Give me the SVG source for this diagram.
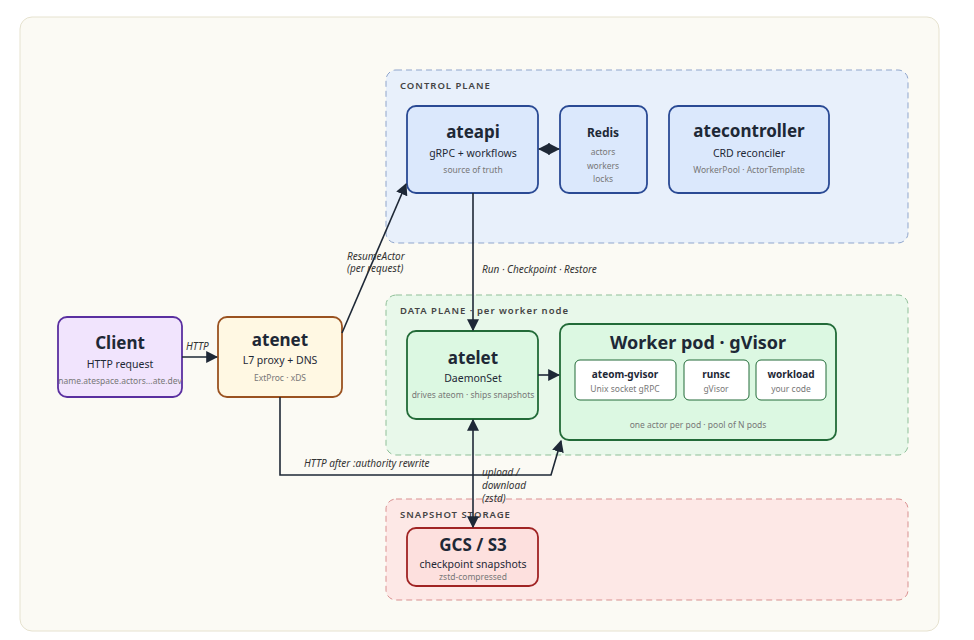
<svg xmlns="http://www.w3.org/2000/svg" width="974" height="640" viewBox="0 0 974 640">
<defs>
<marker id="ah" viewBox="0 0 10 10" refX="9" refY="5" markerWidth="12" markerHeight="12" markerUnits="userSpaceOnUse" orient="auto-start-reverse"><path d="M0,0 L10,5 L0,10 z" fill="#1e2836"/></marker>
<style>
text{font-family:"Noto Sans","Liberation Sans",sans-serif;text-anchor:middle;fill:#1e2836}
.t{font-weight:bold;font-size:17px}
.s{font-size:10.5px}
.m{font-size:8.5px;fill:#777}
.g{font-size:9.5px;font-weight:600;letter-spacing:1px;text-anchor:start;fill:#444}
.l{font-size:10px;font-style:italic;text-anchor:start;fill:#333}
.c{fill:none;stroke:#1e2836;stroke-width:1.6}
.n{stroke-width:1.8}
</style>
</defs>
<rect x="20" y="17" width="919" height="614" rx="12" fill="#fbfaf4" stroke="#e6e2cf"/>
<g id="groups">
<rect x="386" y="70" width="522" height="173" rx="10" fill="#e8f0fb" stroke="#8fa5cc" stroke-dasharray="6 4"/>
<text class="g" x="400" y="89">CONTROL PLANE</text>
<rect x="386" y="295" width="522" height="160" rx="10" fill="#e8f8ea" stroke="#8fbf98" stroke-dasharray="6 4"/>
<text class="g" x="400" y="314">DATA PLANE · per worker node</text>
<rect x="386" y="499" width="522" height="101" rx="10" fill="#fde8e6" stroke="#d99090" stroke-dasharray="6 4"/>
<text class="g" x="400" y="518">SNAPSHOT STORAGE</text>
</g>
<g id="ateapi"><rect class="n" x="407" y="106" width="131" height="87" rx="9" fill="#dbe8fc" stroke="#2a4a94"/>
<text class="t" x="473" y="138">ateapi</text><text class="s" x="473" y="157">gRPC + workflows</text><text class="m" x="473" y="173">source of truth</text></g>
<g id="redis"><rect class="n" x="560" y="106" width="87" height="87" rx="9" fill="#dbe8fc" stroke="#2a4a94"/>
<text x="603" y="137" style="font-weight:bold;font-size:12px">Redis</text><text class="m" x="603" y="155">actors</text><text class="m" x="603" y="169">workers</text><text class="m" x="603" y="182">locks</text></g>
<g id="atecontroller"><rect class="n" x="669" y="106" width="160" height="87" rx="9" fill="#dbe8fc" stroke="#2a4a94"/>
<text class="t" x="749" y="137">atecontroller</text><text class="s" x="749" y="157">CRD reconciler</text><text class="m" x="749" y="173">WorkerPool · ActorTemplate</text></g>
<g id="client"><rect class="n" x="58" y="317" width="124" height="80" rx="9" fill="#f1e4fd" stroke="#5a2fa0"/>
<text class="t" x="120" y="349">Client</text><text class="s" x="120" y="368">HTTP request</text><text class="m" x="120" y="384">name.atespace.actors...ate.dev</text></g>
<g id="atenet"><rect class="n" x="218" y="317" width="124" height="80" rx="9" fill="#fff8e3" stroke="#9a5220"/>
<text class="t" x="280" y="346">atenet</text><text class="s" x="280" y="364">L7 proxy + DNS</text><text class="m" x="280" y="381">ExtProc · xDS</text></g>
<g id="atelet"><rect class="n" x="407" y="331" width="131" height="88" rx="9" fill="#dcf8e2" stroke="#226b38"/>
<text class="t" x="473" y="364">atelet</text><text class="s" x="473" y="382">DaemonSet</text><text class="m" x="473" y="398">drives ateom · ships snapshots</text></g>
<g id="worker"><rect class="n" x="560" y="324" width="276" height="116" rx="9" fill="#dcf8e2" stroke="#226b38"/>
<text x="698" y="349" style="font-weight:bold;font-size:18px">Worker pod  ·  gVisor</text>
<rect x="575" y="360" width="101" height="40" rx="5" fill="#fff" stroke="#226b38"/>
<text x="625" y="378" style="font-weight:bold;font-size:10px">ateom-gvisor</text><text class="m" x="625" y="392">Unix socket gRPC</text>
<rect x="684" y="360" width="65" height="40" rx="5" fill="#fff" stroke="#226b38"/>
<text x="716" y="378" style="font-weight:bold;font-size:10px">runsc</text><text class="m" x="716" y="392">gVisor</text>
<rect x="756" y="360" width="70" height="40" rx="5" fill="#fff" stroke="#226b38"/>
<text x="791" y="378" style="font-weight:bold;font-size:10px">workload</text><text class="m" x="791" y="392">your code</text>
<text class="m" x="698" y="428">one actor per pod · pool of N pods</text></g>
<g id="gcs"><rect class="n" x="407" y="528" width="131" height="58" rx="9" fill="#fde0de" stroke="#a02424"/>
<text class="t" x="473" y="551">GCS / S3</text><text class="s" x="473" y="568">checkpoint snapshots</text><text class="m" x="473" y="580">zstd-compressed</text></g>
<g id="connectors">
<path class="c" d="M182,357 H217" marker-end="url(#ah)"/>
<text class="l" x="186" y="350">HTTP</text>
<path class="c" d="M342,333 L406,184" marker-end="url(#ah)"/>
<text class="l" x="347" y="260">ResumeActor</text><text class="l" x="347" y="272">(per request)</text>
<path class="c" d="M539,149 H559" marker-start="url(#ah)" marker-end="url(#ah)"/>
<path class="c" d="M473,193 V330" marker-end="url(#ah)"/>
<text class="l" x="482" y="273">Run · Checkpoint · Restore</text>
<path class="c" d="M280,397 V475 H551 L561,441" marker-end="url(#ah)"/>
<text class="l" x="304" y="467">HTTP after :authority rewrite</text>
<path class="c" d="M538,375 H559" marker-end="url(#ah)"/>
<path class="c" d="M473,420 V527" marker-start="url(#ah)" marker-end="url(#ah)"/>
<text class="l" x="482" y="476">upload /</text><text class="l" x="482" y="489">download</text><text class="l" x="482" y="502">(zstd)</text>
</g>
</svg>
